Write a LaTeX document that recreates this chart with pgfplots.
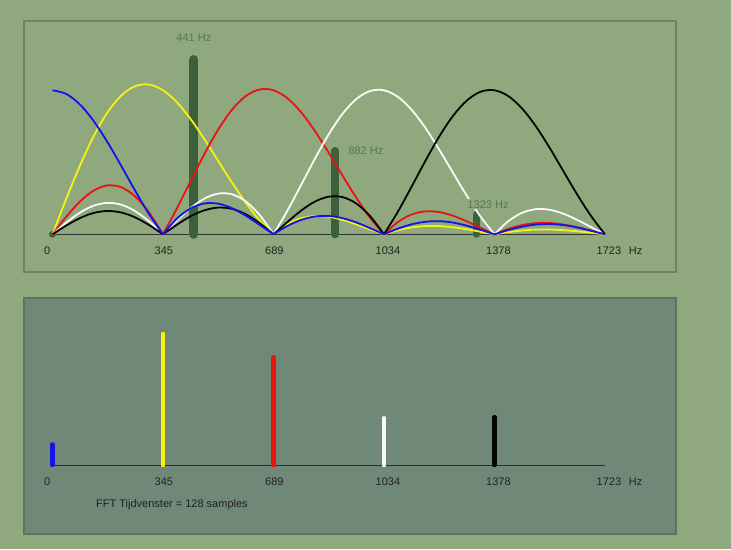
\documentclass[border=0pt]{standalone}
\usepackage{pgfplots}
\pgfplotsset{compat=1.18}
\usepackage{fontspec}
\setmainfont{Liberation Sans}
\definecolor{bgc}{HTML}{8FA87D}
\definecolor{botfill}{HTML}{6F8877}
\definecolor{topborder}{HTML}{6A855F}
\definecolor{botborder}{HTML}{5C7655}
\definecolor{bardark}{HTML}{3E5F3C}
\definecolor{lblgreen}{HTML}{56774F}
\definecolor{ticktext}{HTML}{222222}
\definecolor{cblue}{HTML}{1414E6}
\definecolor{cyellow}{HTML}{F4F40C}
\definecolor{cred}{HTML}{E81414}
\definecolor{cwhite}{HTML}{FAFAFA}
\definecolor{cblack}{HTML}{050505}
\newcommand\lblfont{\fontsize{11}{13}\selectfont}
\pgfplotsset{
  panel/.style={
    scale only axis, width=552.5pt, xmin=0, xmax=1723, ymin=0,
    clip=false, anchor=south west,
    axis x line*=bottom, axis y line=none, ytick=\empty,
    xtick={0,344.6,689.2,1033.8,1378.4,1723},
    xticklabels={0,345,689,1034,1378,{1723\hspace{7.7pt}Hz}},
    major tick length=0pt,
    xticklabel style={anchor=north west, inner sep=0pt, xshift=-8.5pt, yshift=-12.5pt,
      font=\lblfont, text=ticktext},
    unbounded coords=jump,
  },
  curve/.style={smooth, tension=0.55, line width=1.8pt, line join=round, mark=none},
}
\begin{document}
\begin{tikzpicture}[x=1pt,y=1pt]
\useasboundingbox (0,0) rectangle (731,549);
\fill[bgc] (0,0) rectangle (731,549);
\draw[topborder, line width=1.3pt] (24,277) rectangle (676,528);
\filldraw[fill=botfill, draw=botborder, line width=1.3pt] (24,15) rectangle (676,251);

% ---------- top panel ----------
\begin{axis}[panel, at={(52.5pt,314.7pt)}, height=200pt, ymax=200,
  x axis line style={draw=black!80, line width=0.7pt}]
\addplot[ycomb, bardark, line width=6.5pt, line cap=round] coordinates {(0,0.05)};
\addplot[ycomb, bardark, line width=9pt, line cap=round] coordinates {(441,174.8)};
\addplot[ycomb, bardark, line width=8pt, line cap=round] coordinates {(882,83.3)};
\addplot[ycomb, bardark, line width=7pt, line cap=round] coordinates {(1323,19.8)};
% yellow (bin 1)
\addplot[curve, cyellow] coordinates {
(0,0) (43.1,35.6) (86.2,69.1) (129.2,98.6) (172.3,122.2) (215.4,139.0) (258.5,148.2) (301.5,149.7) (344.6,144) (387.7,132.1) (430.8,115.2) (473.8,95.1) (516.9,73.3) (560.0,51.6) (603.1,31.4) (646.1,13.9) (689.2,0)
(689.2,nan) (689.2,0) (732.3,10.0) (775.4,16.0) (818.4,18.3) (861.5,17.5) (904.6,14.4) (947.7,9.9) (990.7,4.8) (1033.8,0)
(1033.8,nan) (1033.8,0) (1076.9,4.0) (1120.0,6.8) (1163.0,8.2) (1206.1,8.2) (1249.2,7.0) (1292.3,5.0) (1335.3,2.5) (1378.4,0)
(1378.4,nan) (1378.4,0) (1421.5,2.2) (1464.6,3.8) (1507.6,4.7) (1550.7,4.8) (1593.8,4.1) (1636.9,3.0) (1679.9,1.5) (1723,0)};
% red (bin 2)
\addplot[curve, cred] coordinates {
(0,0) (43.1,17.6) (86.2,32.9) (129.2,43.9) (172.3,48.9) (215.4,46.9) (258.5,37.7) (301.5,21.7) (344.6,0)
(344.6,nan) (344.6,0) (387.7,25.7) (430.8,53.2) (473.8,80.3) (516.9,104.8) (560.0,124.6) (603.1,138.3) (646.1,144.8) (689.2,144) (732.3,136.1) (775.4,122.0) (818.4,103.2) (861.5,81.5) (904.6,58.6) (947.7,36.4) (990.7,16.4) (1033.8,0)
(1033.8,nan) (1033.8,0) (1076.9,12.2) (1120.0,19.8) (1163.0,22.9) (1206.1,22.2) (1249.2,18.5) (1292.3,12.9) (1335.3,6.4) (1378.4,0)
(1378.4,nan) (1378.4,0) (1421.5,5.4) (1464.6,9.2) (1507.6,11.2) (1550.7,11.3) (1593.8,9.7) (1636.9,7.0) (1679.9,3.6) (1723,0)};
% white (bin 3)
\addplot[curve, cwhite] coordinates {
(0,0) (43.1,11.7) (86.2,21.8) (129.2,28.7) (172.3,31.4) (215.4,29.5) (258.5,23.0) (301.5,12.8) (344.6,0)
(344.6,nan) (344.6,0) (387.7,13.6) (430.8,26.2) (473.8,35.7) (516.9,40.7) (560.0,40.0) (603.1,32.8) (646.1,19.2) (689.2,0)
(689.2,nan) (689.2,0) (732.3,23.5) (775.4,49.4) (818.4,75.6) (861.5,100.0) (904.6,120.5) (947.7,135.3) (990.7,143.3) (1033.8,144) (1076.9,137.5) (1120.0,124.5) (1163.0,106.3) (1206.1,84.6) (1249.2,61.4) (1292.3,38.4) (1335.3,17.5) (1378.4,0)
(1378.4,nan) (1378.4,0) (1421.5,13.1) (1464.6,21.5) (1507.6,25.1) (1550.7,24.5) (1593.8,20.5) (1636.9,14.3) (1679.9,7.1) (1723,0)};
% black (bin 4)
\addplot[curve, cblack] coordinates {
(0,0) (43.1,8.8) (86.2,16.3) (129.2,21.4) (172.3,23.3) (215.4,21.7) (258.5,16.8) (301.5,9.2) (344.6,0)
(344.6,nan) (344.6,0) (387.7,9.5) (430.8,18.0) (473.8,24.0) (516.9,26.7) (560.0,25.4) (603.1,20.0) (646.1,11.2) (689.2,0)
(689.2,nan) (689.2,0) (732.3,12.2) (775.4,23.7) (818.4,32.7) (861.5,37.6) (904.6,37.2) (947.7,30.7) (990.7,18.1) (1033.8,0)
(1033.8,nan) (1033.8,0) (1076.9,22.5) (1120.0,47.7) (1163.0,73.5) (1206.1,97.8) (1249.2,118.5) (1292.3,133.8) (1335.3,142.6) (1378.4,144) (1421.5,138.2) (1464.6,125.7) (1507.6,107.9) (1550.7,86.3) (1593.8,62.8) (1636.9,39.5) (1679.9,18.1) (1723,0)};
% blue (bin 0)
\addplot[curve, cblue] coordinates {
(0,144) (43.1,140.3) (86.2,129.6) (129.2,112.9) (172.3,91.7) (215.4,67.8) (258.5,43.2) (301.5,20.0) (344.6,0)
(344.6,nan) (344.6,0) (387.7,15.6) (430.8,25.9) (473.8,30.8) (516.9,30.6) (560.0,26.1) (603.1,18.5) (646.1,9.4) (689.2,0)
(689.2,nan) (689.2,0) (732.3,8.3) (775.4,14.4) (818.4,17.8) (861.5,18.3) (904.6,16.1) (947.7,11.8) (990.7,6.1) (1033.8,0)
(1033.8,nan) (1033.8,0) (1076.9,5.6) (1120.0,10.0) (1163.0,12.5) (1206.1,13.1) (1249.2,11.7) (1292.3,8.6) (1335.3,4.5) (1378.4,0)
(1378.4,nan) (1378.4,0) (1421.5,4.2) (1464.6,7.6) (1507.6,9.7) (1550.7,10.2) (1593.8,9.2) (1636.9,6.8) (1679.9,3.6) (1723,0)};
\node[text=lblgreen, font=\lblfont, inner sep=0pt] at (axis cs:441,196.6) {441 Hz};
\node[text=lblgreen, font=\lblfont, inner sep=0pt, anchor=west] at (axis cs:922.5,83.6) {882 Hz};
\node[text=lblgreen, fill=bgc, font=\lblfont, inner sep=1.2pt, anchor=west] at (axis cs:1290,30) {1323 Hz};
\end{axis}

% ---------- bottom panel ----------
\begin{axis}[panel, at={(52.5pt,84pt)}, height=150pt, ymax=150,
  x axis line style={draw=black!65!botfill, line width=0.8pt}]
\addplot[ycomb, cblue, line width=4.5pt, line cap=round] coordinates {(0,20.5)};
\addplot[ycomb, cyellow, line width=4.5pt, line cap=round] coordinates {(344.6,131)};
\addplot[ycomb, cred, line width=4.5pt, line cap=round] coordinates {(689.2,107.8)};
\addplot[ycomb, cwhite, line width=4.5pt, line cap=round] coordinates {(1033.8,46.8)};
\addplot[ycomb, cblack, line width=4.5pt, line cap=round] coordinates {(1378.4,47.8)};
\end{axis}
\node[anchor=west, inner sep=0pt, text=ticktext, font=\lblfont] at (96,44) {FFT Tijdvenster = 128 samples};
\end{tikzpicture}
\end{document}
